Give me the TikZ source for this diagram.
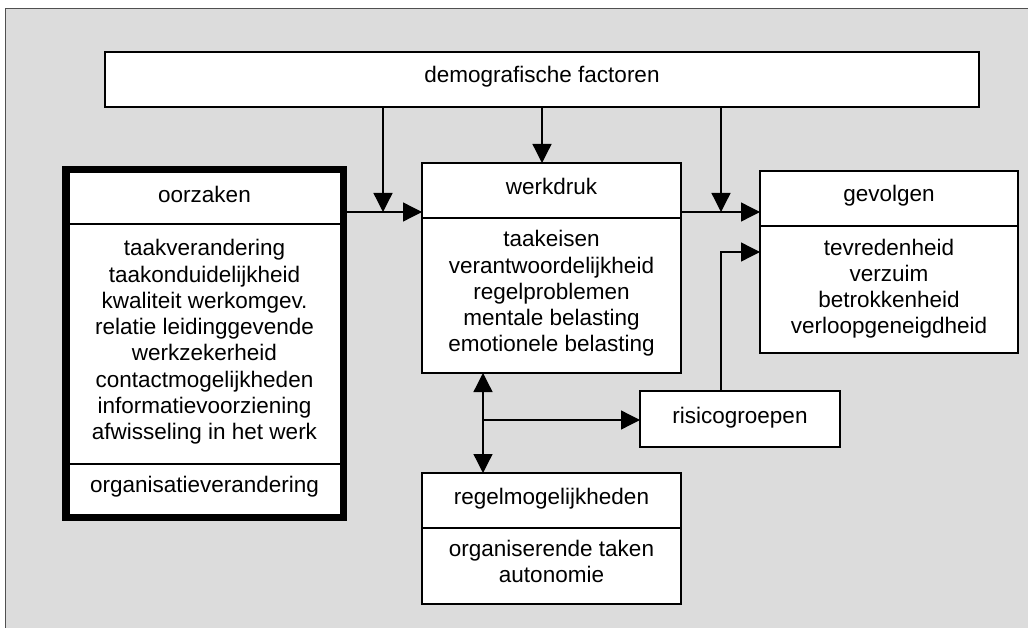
\documentclass[tikz,border=0pt]{standalone}
\usepackage{fontspec}
\setmainfont{Liberation Sans}
\usetikzlibrary{arrows.meta}
\definecolor{panel}{HTML}{DCDCDC}
\definecolor{frame}{HTML}{505050}
\tikzset{
  box/.style={draw=black, fill=white, line width=1.5pt, inner sep=0pt, outer sep=0pt},
  heavybox/.style={box, line width=7.5pt},
  divider/.style={draw=black, line width=1.4pt},
  lbl/.style={inner sep=0pt, anchor=base, font=\fontsize{22.5pt}{26pt}\selectfont},
  conn/.style={draw=black, line width=1.3pt},
  arr/.style={conn, -{Triangle[length=19pt,width=19pt]}},
  arrboth/.style={conn, {Triangle[length=19pt,width=19pt]}-{Triangle[length=19pt,width=19pt]}},
}
\begin{document}
\begin{tikzpicture}[x=1pt, y=-1pt]
  \useasboundingbox (0,0) rectangle (1028,628);
  \fill[white] (0,0) rectangle (1028,628);
  % grey panel behind the whole model
  \begin{scope}
    \clip (0,0) rectangle (1028,628);
    \filldraw[fill=panel, draw=frame, line width=1pt] (5,9) rectangle (1060,660);
  \end{scope}

  % boxes
  \node[box, minimum width=874pt, minimum height=55pt] (demo) at (542,79.5) {};
  \node[heavybox, minimum width=277.5pt, minimum height=347.5pt] (oorz) at (204.5,343.5) {};
  \node[box, minimum width=259pt, minimum height=210pt] (werk) at (551.5,268) {};
  \node[box, minimum width=258pt, minimum height=182pt] (gev) at (889,262) {};
  \node[box, minimum width=200pt, minimum height=56pt] (risk) at (740,419) {};
  \node[box, minimum width=259pt, minimum height=131pt] (regel) at (551.5,538.5) {};

  % compartment lines
  \draw[divider] (oorz.west |- 0,224) -- (oorz.east |- 0,224);
  \draw[divider] (oorz.west |- 0,464) -- (oorz.east |- 0,464);
  \draw[divider] (werk.west |- 0,218) -- (werk.east |- 0,218);
  \draw[divider] (gev.west |- 0,226) -- (gev.east |- 0,226);
  \draw[divider] (regel.west |- 0,528) -- (regel.east |- 0,528);

  % texts
  \node[lbl] (demo-t) at (542,83) {demografische factoren};

  \node[lbl] (oorz-t) at (204.5,203) {oorzaken};
  \foreach \t [count=\i from 0] in {taakverandering, taakonduidelijkheid,
      kwaliteit werkomgev., relatie leidinggevende, werkzekerheid,
      contactmogelijkheden, informatievoorziening, afwisseling in het werk}
    \node[lbl] (oorz-\i) at (204.5,256+26.2*\i) {\t};
  \node[lbl] (oorz-org) at (204.5,492) {organisatieverandering};

  \node[lbl] (werk-t) at (551.5,195) {werkdruk};
  \foreach \t [count=\i from 0] in {taakeisen, verantwoordelijkheid,
      regelproblemen, mentale belasting, emotionele belasting}
    \node[lbl] (werk-\i) at (551.5,247+26.2*\i) {\t};

  \node[lbl] (gev-t) at (889,202) {gevolgen};
  \foreach \t [count=\i from 0] in {tevredenheid, verzuim, betrokkenheid,
      verloopgeneigdheid}
    \node[lbl] (gev-\i) at (889,256+26*\i) {\t};

  \node[lbl] (risk-t) at (740,423) {risicogroepen};

  \node[lbl] (regel-t) at (551.5,504) {regelmogelijkheden};
  \node[lbl] (regel-0) at (551.5,556) {organiserende taken};
  \node[lbl] (regel-1) at (551.5,582) {autonomie};

  % junction points of the connectors
  \coordinate (jL) at (383,212);
  \coordinate (jR) at (721,212);
  \coordinate (kR) at (721,252);
  \coordinate (kD) at (483,420);

  % connectors
  \draw[arr] (oorz.east |- jL) -- (werk.west |- jL);
  \draw[arr] (demo.south -| jL) -- (jL);
  \draw[arr] (demo.south) -- (werk.north -| demo.south);
  \draw[arr] (werk.east |- jR) -- (gev.west |- jR);
  \draw[arr] (demo.south -| jR) -- (jR);
  \draw[arr] (risk.north -| kR) |- (gev.west |- kR);
  \draw[arrboth] (werk.south -| kD) -- (regel.north -| kD);
  \draw[arr] (kD) -- (risk.west |- kD);
\end{tikzpicture}
\end{document}
